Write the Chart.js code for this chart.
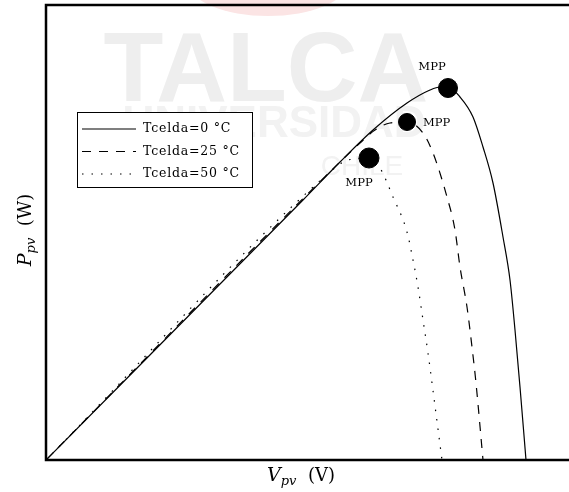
<!DOCTYPE html>
<html>
<head>
<meta charset="utf-8">
<script src="https://cdn.jsdelivr.net/npm/chart.js@4/dist/chart.umd.min.js"></script>
<style>
html,body{margin:0;padding:0;background:#fff;overflow:hidden;}
#wrap{width:569px;height:492px;position:relative;overflow:hidden;}
canvas{display:block;}
</style>
</head>
<body>
<div id="wrap"><canvas id="c" width="580" height="492"></canvas></div>
<script>
// Series (V in arbitrary units, P in arbitrary units)
const seriesNames = ['Tcelda=0 °C', 'Tcelda=25 °C', 'Tcelda=50 °C'];
const v0  = [0, 25.7, 29.4, 32.7, 36.1, 38.4, 39.4, 40.2, 41.4, 42.7, 43.7, 44.7, 45.7, 46.4, 46.9, 47.4, 48.0];
const p0  = [0, 26.0, 29.8, 33.0, 35.7, 37.0, 37.3, 37.3, 36.3, 34.3, 31.3, 27.7, 22.3, 18.0, 13.0, 7.3, 0];
const v25 = [0, 29.4, 31.4, 32.9, 34.4, 36.1, 37.7, 38.7, 40.1, 40.9, 41.4, 42.1, 42.6, 43.0, 43.7];
const p25 = [0, 29.8, 31.7, 33.0, 33.7, 33.8, 32.7, 30.7, 26.3, 23.0, 19.3, 15.3, 11.3, 7.7, 0];
const v50 = [0, 28.4, 29.9, 30.9, 32.3, 33.4, 34.7, 36.1, 36.7, 37.2, 37.7, 38.2, 38.6, 39.6];
const p50 = [0, 28.8, 29.9, 30.1, 30.2, 29.2, 26.3, 22.8, 20.0, 17.3, 14.0, 10.7, 7.7, 0];
// Maximum power points
const mppV = [40.2, 36.1, 32.3];
const mppP = [37.2, 33.8, 30.2];
const mppLabel = ['MPP', 'MPP', 'MPP'];

const xMax = 53.4, yMax = 45.5;
const toPts = (xs, ys) => xs.map((x, i) => ({x: x, y: ys[i]}));
const dashes = [[], [9, 8], [1.5, 8]];

const SERIF = '"DejaVu Serif", "Liberation Serif", serif';

const decor = {
  id: 'decor',
  beforeDatasetsDraw(chart) {
    const ctx = chart.ctx;
    ctx.save();
    // faint watermark in the background
    ctx.fillStyle = '#fbe4e4';
    ctx.beginPath();
    ctx.ellipse(268, -18, 80, 34, 0, 0, Math.PI * 2);
    ctx.fill();
    ctx.fillStyle = '#eeeeee';
    ctx.font = 'bold 98px "Liberation Sans", Arial, sans-serif';
    ctx.textAlign = 'center';
    ctx.textBaseline = 'alphabetic';
    ctx.fillText('TALCA', 266, 101);
    ctx.fillStyle = '#f2f2f2';
    ctx.font = 'bold 44px "Liberation Sans", Arial, sans-serif';
    ctx.fillText('UNIVERSIDAD', 274, 137);
    ctx.font = '28px "Liberation Sans", Arial, sans-serif';
    ctx.fillText('CHILE', 362, 175);
    ctx.restore();
  },
  afterDatasetsDraw(chart) {
    const ctx = chart.ctx;
    const xs = chart.scales.x, ys = chart.scales.y;
    const a = chart.chartArea;
    ctx.save();
    // plot frame (left, top, bottom; right edge lies beyond the picture)
    ctx.strokeStyle = '#000';
    ctx.lineWidth = 2.5;
    ctx.beginPath();
    ctx.moveTo(a.right, a.top);
    ctx.lineTo(a.left, a.top);
    ctx.lineTo(a.left, a.bottom);
    ctx.lineTo(a.right, a.bottom);
    ctx.stroke();
    // MPP labels
    ctx.fillStyle = '#000';
    ctx.font = '11.5px ' + SERIF;
    ctx.textBaseline = 'middle';
    const offs = [[-16, -21, 'center'], [16, 1, 'left'], [-10, 25, 'center']];
    mppV.forEach((v, i) => {
      const px = xs.getPixelForValue(v), py = ys.getPixelForValue(mppP[i]);
      ctx.textAlign = offs[i][2];
      ctx.fillText(mppLabel[i], px + offs[i][0], py + offs[i][1]);
    });
    // legend box
    const lx = 77, ly = 112, lw = 175, lh = 75;
    ctx.fillStyle = '#fff';
    ctx.fillRect(lx, ly, lw, lh);
    ctx.strokeStyle = '#000';
    ctx.lineWidth = 1;
    ctx.strokeRect(lx + 0.5, ly + 0.5, lw, lh);
    ctx.font = '12.5px ' + SERIF;
    ctx.textAlign = 'left';
    seriesNames.forEach((n, i) => {
      const y = ly + 17 + i * 22.5;
      ctx.beginPath();
      ctx.setLineDash(dashes[i]);
      ctx.lineWidth = 1.2;
      ctx.moveTo(82, y);
      ctx.lineTo(136, y);
      ctx.stroke();
      ctx.setLineDash([]);
      ctx.fillStyle = '#000';
      if ('letterSpacing' in ctx) ctx.letterSpacing = '0.8px';
      ctx.fillText(n, 143, y);
      if ('letterSpacing' in ctx) ctx.letterSpacing = '0px';
    });
    // axis titles
    ctx.fillStyle = '#000';
    ctx.textBaseline = 'alphabetic';
    const xt = [['V', 'italic 19px ' + SERIF, 0], ['pv', 'italic 13px ' + SERIF, 4], ['  (V)', '18px ' + SERIF, 0]];
    const yt = [['P', 'italic 19px ' + SERIF, 0], ['pv', 'italic 13px ' + SERIF, 4], ['  (W)', '18px ' + SERIF, 0]];
    const measure = parts => parts.reduce((s, p) => { ctx.font = p[1]; return s + ctx.measureText(p[0]).width; }, 0);
    const drawParts = (parts, cx, cy) => {
      let x = cx - measure(parts) / 2;
      parts.forEach(p => {
        ctx.font = p[1];
        ctx.fillText(p[0], x, cy + p[2]);
        x += ctx.measureText(p[0]).width;
      });
    };
    drawParts(xt, 301, 481);
    ctx.save();
    ctx.translate(31, 230);
    ctx.rotate(-Math.PI / 2);
    drawParts(yt, 0, 0);
    ctx.restore();
    ctx.restore();
  }
};

const lineDs = (label, xs, ys, i) => ({
  label: label,
  data: toPts(xs, ys),
  borderColor: '#000',
  borderWidth: 1.2,
  borderDash: dashes[i],
  pointRadius: 0,
  fill: false,
  cubicInterpolationMode: 'monotone',
  showLine: true
});

new Chart(document.getElementById('c'), {
  type: 'scatter',
  data: {
    datasets: [
      lineDs(seriesNames[0], v0, p0, 0),
      lineDs(seriesNames[1], v25, p25, 1),
      lineDs(seriesNames[2], v50, p50, 2),
      {
        label: 'MPP',
        data: toPts(mppV, mppP),
        pointRadius: [9.5, 8.5, 10],
        pointBackgroundColor: '#000',
        pointBorderColor: '#000',
        showLine: false
      }
    ]
  },
  options: {
    responsive: false,
    animation: false,
    layout: {autoPadding: false, padding: {left: 46, top: 5, right: 0, bottom: 32}},
    plugins: {legend: {display: false}, tooltip: {enabled: false}},
    scales: {
      x: {type: 'linear', min: 0, max: xMax, display: false},
      y: {type: 'linear', min: 0, max: yMax, display: false}
    }
  },
  plugins: [decor]
});
</script>
</body>
</html>
